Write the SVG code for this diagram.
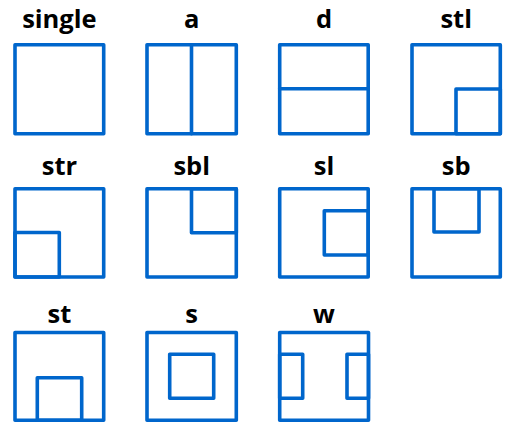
<svg xmlns="http://www.w3.org/2000/svg" width="505" height="428" viewBox="0 0 505 428">
<style>
.b{fill:none;stroke:#0066cc;stroke-width:3.6;stroke-linejoin:round;stroke-linecap:round}
.t{font-family:"Open Sans","Liberation Sans",sans-serif;font-weight:700;font-size:25.5px;fill:#000;text-anchor:middle}
</style>
<rect width="505" height="428" fill="#fff"/>
<g id="single">
<text class="t" x="59.4" y="28.3">single</text>
<rect class="b" x="15" y="44.7" width="88.7" height="89"/>
</g>
<g id="a">
<text class="t" x="191.7" y="28.3">a</text>
<rect class="b" x="147" y="44.7" width="89.3" height="89"/>
<line class="b" x1="191.5" y1="44.7" x2="191.5" y2="133.7"/>
</g>
<g id="d">
<text class="t" x="324" y="28.3">d</text>
<rect class="b" x="279.7" y="44.7" width="88.5" height="89"/>
<line class="b" x1="279.7" y1="88.8" x2="368.2" y2="88.8"/>
</g>
<g id="stl">
<text class="t" x="456.2" y="28.3">stl</text>
<rect class="b" x="412" y="44.7" width="88.3" height="89"/>
<rect class="b" x="456" y="89" width="44.3" height="44.7"/>
</g>
<g id="str">
<text class="t" x="59.4" y="175">str</text>
<rect class="b" x="15" y="188.7" width="88.7" height="88.3"/>
<rect class="b" x="15" y="232.5" width="44.3" height="44.5"/>
</g>
<g id="sbl">
<text class="t" x="191.7" y="175">sbl</text>
<rect class="b" x="147" y="188.7" width="89.3" height="88.3"/>
<rect class="b" x="191.5" y="188.7" width="44.8" height="44"/>
</g>
<g id="sl">
<text class="t" x="324" y="175">sl</text>
<rect class="b" x="279.7" y="188.7" width="88.5" height="88.3"/>
<rect class="b" x="324.3" y="210.7" width="43.9" height="44.3"/>
</g>
<g id="sb">
<text class="t" x="456.2" y="175">sb</text>
<rect class="b" x="412" y="188.7" width="88.3" height="88.3"/>
<rect class="b" x="434" y="188.7" width="45" height="43.3"/>
</g>
<g id="st">
<text class="t" x="59.4" y="322.7">st</text>
<rect class="b" x="15" y="332.5" width="88.7" height="87.8"/>
<rect class="b" x="37.3" y="377.7" width="44.4" height="42.6"/>
</g>
<g id="s">
<text class="t" x="191.7" y="322.7">s</text>
<rect class="b" x="147" y="332.5" width="89.3" height="87.8"/>
<rect class="b" x="169.7" y="354.3" width="44" height="44"/>
</g>
<g id="w">
<text class="t" x="324" y="322.7">w</text>
<rect class="b" x="279.7" y="332.5" width="88.8" height="87.8"/>
<rect class="b" x="279.7" y="354.3" width="23" height="44"/>
<rect class="b" x="347" y="354.3" width="21.5" height="44"/>
</g>
<g id="connectors"></g>
</svg>
